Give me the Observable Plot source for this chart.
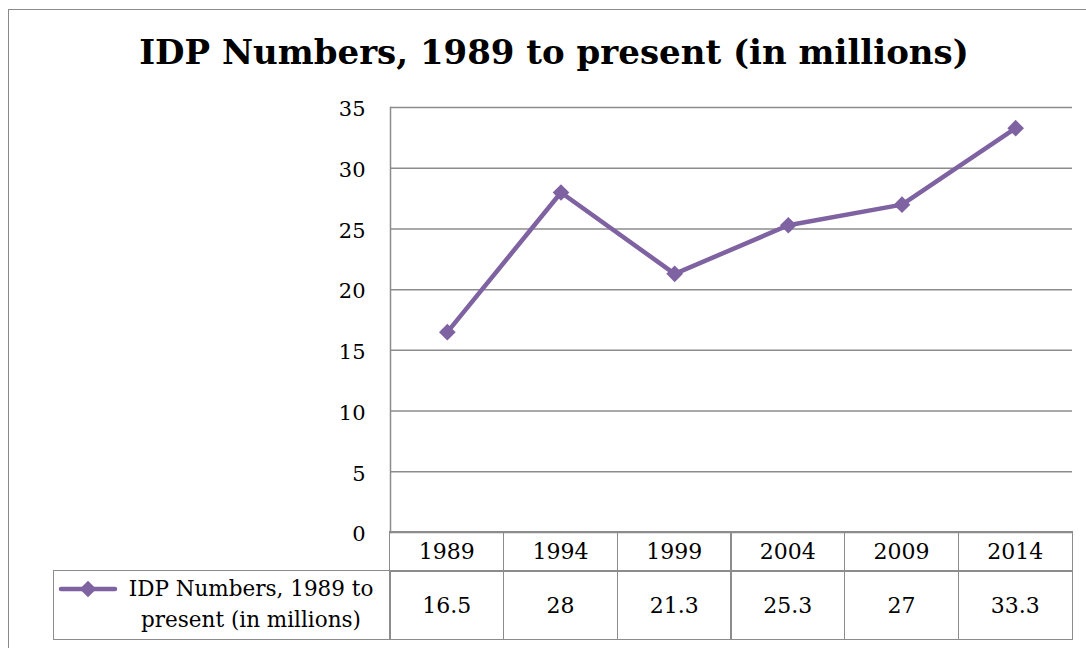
<!DOCTYPE html>
<html><head><meta charset="utf-8">
<script src="https://cdn.jsdelivr.net/npm/d3@7"></script>
<script src="https://cdn.jsdelivr.net/npm/@observablehq/plot@0.6"></script>
<style>
body{margin:0;width:1086px;height:648px;overflow:hidden;background:#fff;position:relative;font-family:"DejaVu Serif",serif;color:#000}
#frame{position:absolute;left:8px;top:9px;width:1100px;height:700px;border:1.5px solid #8a8a8a;box-sizing:border-box}
#title{position:absolute;left:0;width:1108px;top:30px;text-align:center;font-weight:bold;font-size:34px;line-height:44px;white-space:nowrap}
#chart{position:absolute;left:0;top:0}
.cell{position:absolute;box-sizing:border-box;border:1.5px solid #8c8c8c;display:flex;align-items:center;justify-content:center;font-size:22px;white-space:nowrap}
#legendText{position:absolute;left:118px;top:573px;width:266px;text-align:center;font-size:21.5px;line-height:31px;white-space:nowrap}
</style></head>
<body>
<div id="frame"></div>
<div id="title"></div>
<div id="chart"></div>
<script>
const years = ["1989", "1994", "1999", "2004", "2009", "2014"];
const values = [16.5, 28, 21.3, 25.3, 27, 33.3];
const valueLabels = ["16.5", "28", "21.3", "25.3", "27", "33.3"];
const yTicks = [0, 5, 10, 15, 20, 25, 30, 35];
const chartTitle = "IDP Numbers, 1989 to present (in millions)";
const seriesName = "IDP Numbers, 1989 to present (in millions)";

const purple = "#7e62a1";
const gray = "#8c8c8c";
const data = years.map((y, i) => ({year: y, value: values[i], label: valueLabels[i]}));

document.getElementById("title").textContent = chartTitle;

const plot = Plot.plot({
  width: 1086,
  height: 648,
  marginLeft: 390,
  marginRight: 14,
  marginTop: 107,
  marginBottom: 116,
  x: {type: "band", domain: years, padding: 0, round: false, axis: null},
  y: {domain: [0, 35], axis: null},
  style: {fontFamily: "DejaVu Serif", background: "transparent", overflow: "visible"},
  marks: [
    Plot.ruleY(yTicks, {stroke: gray, strokeOpacity: 1, strokeWidth: 1.5}),
    Plot.frame({anchor: "left", stroke: gray, strokeWidth: 1.5}),
    Plot.axisY(yTicks, {tickSize: 0, tickPadding: 25, fontSize: 21, fill: "#000", label: null, dy: 2}),
    Plot.line(data, {x: "year", y: "value", stroke: purple, strokeWidth: 4.5}),
    Plot.dot(data, {x: "year", y: "value", symbol: "diamond2", fill: purple, stroke: "none", r: 7.5})
  ]
});
document.getElementById("chart").appendChild(plot);

// Data table under the plot, aligned on the x scale
const xs = plot.scale("x");
const bw = xs.bandwidth;
const headerTop = 532, headerH = 39, rowH = 68;
data.forEach(d => {
  const left = xs.apply(d.year);
  const h = document.createElement("div");
  h.className = "cell";
  Object.assign(h.style, {left: (left - 0.75) + "px", top: (headerTop - 0.75) + "px", width: (bw + 1.5) + "px", height: (headerH + 1.5) + "px"});
  h.textContent = d.year;
  document.body.appendChild(h);
  const v = document.createElement("div");
  v.className = "cell";
  Object.assign(v.style, {left: (left - 0.75) + "px", top: (headerTop + headerH - 0.75) + "px", width: (bw + 1.5) + "px", height: (rowH + 1.5) + "px"});
  v.textContent = d.label;
  document.body.appendChild(v);
});
// legend cell
const x0 = xs.apply(years[0]);
const lc = document.createElement("div");
lc.className = "cell";
Object.assign(lc.style, {left: "53px", top: (headerTop + headerH - 0.75) + "px", width: (x0 - 53 + 0.75) + "px", height: (rowH + 1.5) + "px"});
document.body.appendChild(lc);

// legend key
const ns = "http://www.w3.org/2000/svg";
const key = document.createElementNS(ns, "svg");
key.setAttribute("width", 70); key.setAttribute("height", 30);
Object.assign(key.style, {position: "absolute", left: "55px", top: "574px"});
const ln = document.createElementNS(ns, "line");
ln.setAttribute("x1", 6); ln.setAttribute("x2", 60); ln.setAttribute("y1", 15); ln.setAttribute("y2", 15);
ln.setAttribute("stroke", purple); ln.setAttribute("stroke-width", 4.5); ln.setAttribute("stroke-linecap", "round");
key.appendChild(ln);
const dm = document.createElementNS(ns, "path");
dm.setAttribute("d", d3.symbol(d3.symbolDiamond2, Math.PI * 7.5 * 7.5)());
dm.setAttribute("transform", "translate(33,15)");
dm.setAttribute("fill", purple);
key.appendChild(dm);
document.body.appendChild(key);

const lt = document.createElement("div");
lt.id = "legendText";
const parts = seriesName.split(" present");
const l1 = document.createElement("div"); l1.textContent = parts[0];
const l2 = document.createElement("div"); l2.textContent = "present" + parts[1];
lt.appendChild(l1); lt.appendChild(l2);
document.body.appendChild(lt);
</script>
</body></html>
